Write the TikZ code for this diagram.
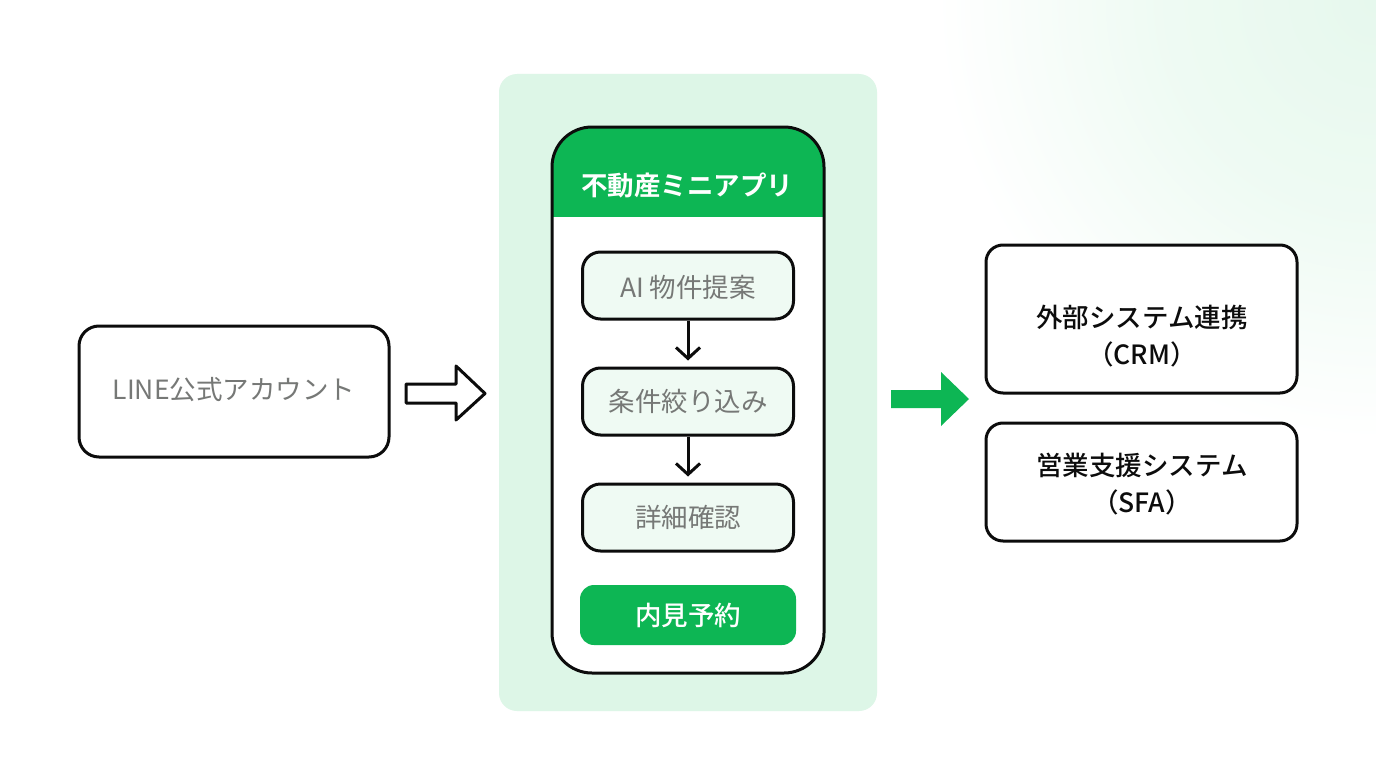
\documentclass[tikz,border=0pt]{standalone}
\usepackage{fontspec}
\setmainfont{Noto Sans CJK JP}
\newfontfamily\jpbold{Noto Sans CJK JP Medium}
\newfontfamily\jptitle{Noto Sans CJK JP Bold}
\usetikzlibrary{arrows.meta,calc}
\definecolor{lgreen}{HTML}{0DB654}
\definecolor{panelg}{HTML}{DDF6E7}
\definecolor{stepg}{HTML}{EFFAF3}
\definecolor{ink}{HTML}{0C0C0C}
\definecolor{graytxt}{HTML}{767876}
\definecolor{corner}{HTML}{E6F8ED}
\pgfdeclareradialshading{cornerglow}{\pgfpoint{0bp}{0bp}}{color(0bp)=(corner); color(12.5bp)=(corner!65!white); color(25bp)=(white); color(50bp)=(white)}
\tikzset{
  x=1pt,y=-1pt,
  boxline/.style={draw=ink,line width=3pt,fill=white},
  txt/.style={font=\fontsize{26.5pt}{37pt}\selectfont,align=center,inner sep=0pt},
  graylabel/.style={txt,text=graytxt},
  blacklabel/.style={txt,text=ink,font=\jpbold\fontsize{26.5pt}{37pt}\selectfont},
  whitelabel/.style={txt,text=white,font=\jpbold\fontsize{26.5pt}{37pt}\selectfont},
  stepbox/.style={boxline,fill=stepg,rounded corners=18pt,minimum width=211pt,minimum height=67pt,inner sep=0pt,graylabel},
  sysbox/.style={boxline,rounded corners=17pt,inner sep=0pt},
  flow/.style={draw=ink,line width=3pt,shorten >=6pt,-{Straight Barb[length=11pt,width=24pt,line width=3pt]}},
}
\begin{document}
\begin{tikzpicture}
\useasboundingbox (0,0) rectangle (1376,768);
\fill[white] (0,0) rectangle (1376,768);
\begin{scope}
\clip (0,0) rectangle (1376,768);
\shade[shading=cornerglow] (1376-440,-440) rectangle (1376+440,440);
\end{scope}
% panel
\fill[panelg,rounded corners=18pt] (499,74) rectangle (877,711);
% phone
\fill[white,rounded corners=40pt] (552,127) rectangle (824,673);
\begin{scope}
\clip[rounded corners=40pt] (552,127) rectangle (824,673);
\fill[lgreen] (552,127) rectangle (824,217);
\end{scope}
\draw[ink,line width=3pt,rounded corners=40pt] (552,127) rectangle (824,673);
\node[whitelabel,font=\jptitle\fontsize{26.5pt}{32pt}\selectfont] (title) at (687,185) {不動産ミニアプリ};
% steps
\node[stepbox,text depth=0pt] (s1) at (688,285.5) {\raisebox{-2pt}{AI 物件提案}};
\node[stepbox] (s2) at (688,401.5) {\raisebox{-2pt}{条件絞り込み}};
\node[stepbox] (s3) at (688,517.5) {\raisebox{-2pt}{詳細確認}};
\node[fill=lgreen,rounded corners=14pt,minimum width=216pt,minimum height=60pt,inner sep=0pt,whitelabel] (cta) at (688,615) {\raisebox{-1pt}{内見予約}};
\draw[flow] (s1.south) -- (s2.north);
\draw[flow] (s2.south) -- (s3.north);
% left
\node[sysbox,rounded corners=20pt,minimum width=310pt,minimum height=131pt] (line) at (234,391.5) {};
\node[graylabel] (linelabel) at (234,389.5) {LINE公式アカウント};
% right
\node[sysbox,minimum width=311pt,minimum height=148pt] (crm) at (1141.5,319) {};
\node[blacklabel] (crmlabel) at (1142,336) {外部システム連携\\（CRM）};
\node[sysbox,minimum width=311pt,minimum height=118pt] (sfa) at (1141.5,482) {};
\node[blacklabel] (sfalabel) at (1142,484) {営業支援システム\\（SFA）};
% block arrows
\draw[ink,line width=3pt,fill=white,line join=round] (406,384) -- (456,384) -- (456,366) -- (485,393.5) -- (456,420) -- (456,403) -- (406,403) -- cycle;
\fill[lgreen] (891,390) -- (941,390) -- (941,372) -- (969,399) -- (941,426) -- (941,408) -- (891,408) -- cycle;
\end{tikzpicture}
\end{document}
